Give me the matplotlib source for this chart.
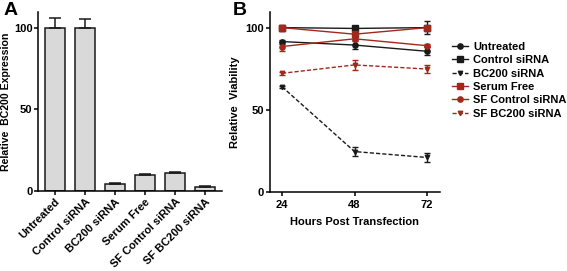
import matplotlib
matplotlib.use("Agg")
import matplotlib.pyplot as plt
from matplotlib.lines import Line2D

plt.rcParams['font.family'] = ['Liberation Sans', 'DejaVu Sans']
plt.rcParams['font.weight'] = 'bold'

# Panel A data
a_categories = ["Untreated", "Control siRNA", "BC200 siRNA", "Serum Free",
                "SF Control siRNA", "SF BC200 siRNA"]
a_values = [100, 100, 4.5, 9.5, 11, 2.5]
a_errors = [6, 5.5, 0.5, 0.8, 0.5, 0.3]

# Panel B data
hours = [24, 48, 72]
b_series = ["Untreated", "Control siRNA", "BC200 siRNA",
            "Serum Free", "SF Control siRNA", "SF BC200 siRNA"]
b_values = [
    [91.5, 89.4, 85.6],
    [100, 99.5, 100],
    [64, 24.6, 21],
    [100, 96, 100],
    [88.5, 93.2, 89],
    [72.2, 77.3, 74.8],
]
b_errors = [
    [1.2, 2.5, 2.5],
    [1.0, 0.8, 4.0],
    [0.5, 2.5, 2.5],
    [1.8, 1.0, 1.0],
    [2.5, 1.0, 1.0],
    [0.8, 3.0, 2.5],
]

black = '#1a1a1a'
red = '#a3281c'
b_colors = [black, black, black, red, red, red]
b_markers = ['o', 's', 'v', 's', 'o', 'v']
b_ls = ['-', '-', '--', '-', '-', '--']
b_ms = [3.8, 3.8, 3.2, 3.8, 3.8, 3.2]

fs = 8
W, H = 567, 271
fig = plt.figure(figsize=(W / 100, H / 100), dpi=100)

# Panel A
axA = fig.add_axes([38 / W, 1 - 191 / H, (222 - 38) / W, (191 - 12) / H])
x = list(range(len(a_categories)))
axA.bar(x, a_values, width=0.66, color='#d9d9d9', edgecolor=black, linewidth=1.1,
        yerr=[[0] * len(a_errors), a_errors],
        error_kw=dict(ecolor=black, elinewidth=1.1, capsize=4, capthick=1.1),
        zorder=2)
axA.set_xlim(-0.55, 5.55)
axA.set_ylim(0, 109.5)
axA.set_yticks([0, 50, 100])
axA.set_xticks(x)
axA.set_xticklabels(a_categories, rotation=45, ha='right', rotation_mode='anchor',
                    fontsize=fs, fontweight='bold')
axA.set_ylabel("Relative  BC200 Expression", fontsize=7.6, fontweight='bold', labelpad=2)
for s in ['top', 'right']:
    axA.spines[s].set_visible(False)
for s in ['left', 'bottom']:
    axA.spines[s].set_linewidth(1.1)
axA.tick_params(axis='y', labelsize=fs, width=1.1, length=3, pad=1)
axA.tick_params(axis='x', width=1.1, length=3, pad=1)
for lab in axA.get_yticklabels():
    lab.set_fontweight('bold')

# Panel B
axB = fig.add_axes([270 / W, 1 - 192 / H, (440 - 270) / W, (192 - 12) / H])
handles = []
for i, name in enumerate(b_series):
    kw = dict(color=b_colors[i], marker=b_markers[i], markersize=b_ms[i],
              linestyle=b_ls[i], linewidth=1.0)
    if b_ls[i] == '--':
        kw['dashes'] = (3, 1.5)
    axB.errorbar(hours, b_values[i], yerr=b_errors[i], elinewidth=1.0,
                 capsize=2.5, capthick=1.0, **kw)
    handles.append(Line2D([], [], label=name, **kw))
axB.set_xlim(20, 76.3)
axB.set_ylim(0, 109.5)
axB.set_xticks(hours)
axB.set_yticks([0, 50, 100])
axB.set_xlabel("Hours Post Transfection", fontsize=fs, fontweight='bold', labelpad=5)
axB.set_ylabel("Relative  Viability", fontsize=fs, fontweight='bold', labelpad=4)
for s in ['top', 'right']:
    axB.spines[s].set_visible(False)
for s in ['left', 'bottom']:
    axB.spines[s].set_linewidth(1.1)
axB.tick_params(axis='x', labelsize=fs, width=1.1, length=3, pad=3)
axB.tick_params(axis='y', labelsize=fs, width=1.1, length=3, pad=1.5)
for lab in axB.get_xticklabels() + axB.get_yticklabels():
    lab.set_fontweight('bold')

leg = fig.legend(handles=handles, loc='upper left', bbox_to_anchor=(452 / W, 1 - 42 / H),
                 frameon=False, fontsize=fs, handlelength=1.4, handletextpad=0.5,
                 labelspacing=0.3, borderaxespad=0, borderpad=0)
for t in leg.get_texts():
    t.set_fontweight('bold')

fig.text(4 / W, 1 - 2 / H, "A", fontsize=14, fontweight='bold', va='top', ha='left')
fig.text(233 / W, 1 - 2 / H, "B", fontsize=14, fontweight='bold', va='top', ha='left')

fig.savefig("out.png", dpi=100)
